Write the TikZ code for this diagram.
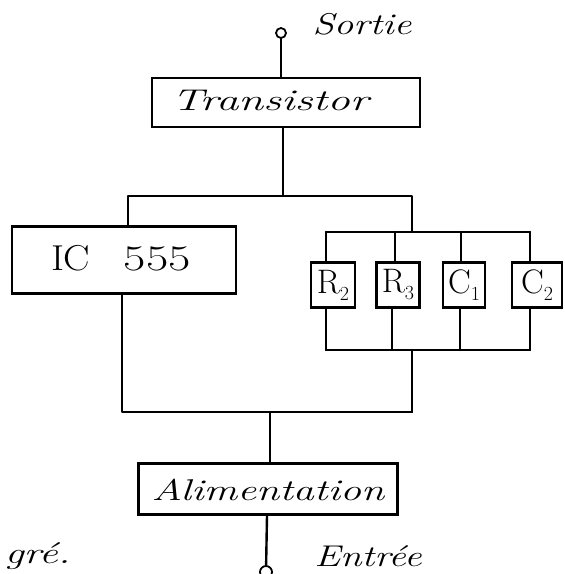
\documentclass[tikz,border=0pt]{standalone}
\usepackage{graphicx}
\newcommand{\wide}[2]{\scalebox{#1}[1]{#2}}
\newcommand{\compname}[2]{#1\raisebox{-7pt}{\fontsize{20}{20}\selectfont #2}}
\begin{document}
\begin{tikzpicture}[x=1pt,y=-1pt,
  wire/.style={line width=2.4pt, line cap=round, line join=round},
  blk/.style={draw, line width=2.4pt, inner sep=0pt, minimum height=#1},
  blk/.default=45pt,
  term/.style={draw, circle, line width=1.8pt, minimum size=10pt, inner sep=0pt},
  hand/.style={font=\fontsize{30}{32}\selectfont\itshape},
  print/.style={font=\fontsize{36}{38}\selectfont},
  comp/.style={font=\fontsize{34}{36}\selectfont}]
\useasboundingbox (0,0) rectangle (565,574);
% terminals
\node[term] (sortie) at (281,33) {};
\node[term, minimum size=12pt] (entree) at (266,572) {};
% blocks
\node[blk=49pt, minimum width=268pt] (trans) at (286,102.5) {};
\node[hand] (transt) at (270,100) {\wide{1.5}{Transistor}};
\node[blk=67pt, minimum width=224pt] (ic) at (124,260) {};
\node[print] (ict) at (121,258) {\wide{1.1}{I\kern-1pt C}\hspace{34pt}\wide{1.35}{555}};
\node[blk=45pt, minimum width=44pt, comp] (r2) at (333,285) {\compname{R}{2}};
\node[blk=45pt, minimum width=43pt, comp] (r3) at (398,285) {\compname{R}{3}};
\node[blk=45pt, minimum width=42pt, comp] (c1) at (464,285) {\compname{C}{1}};
\node[blk=45pt, minimum width=50pt, comp] (c2) at (537,285) {\compname{C}{2}};
\node[blk=51pt, minimum width=259pt] (alim) at (268,489) {};
\node[hand] (alimt) at (268,490) {\wide{1.4}{Alimentation}};
% labels
\node[hand] (lsortie) at (362,24) {\wide{1.3}{Sortie}};
\node[hand] (lentree) at (368,556) {\wide{1.3}{Entrée}};
\node[hand, anchor=east] (lgre) at (74,556) {\wide{1.4}{gré.}};
% coordinates
\coordinate (tl) at (128,196);
\coordinate (tr) at (412,196);
\coordinate (gt) at (326,232);
\coordinate (gtr) at (530,232);
\coordinate (gb) at (326,350);
\coordinate (gbr) at (530,350);
\coordinate (bl) at (122,412);
\coordinate (br) at (412,412);
% connectors
\draw[wire] (sortie) -- (sortie |- trans.north);
\draw[wire] (trans.south -| 283,0) -- (283,196);
\draw[wire] (ic.north -| tl) -- (tl) -- (tr) -- (tr |- gt);
\draw[wire] (gt) -- (gtr);
\draw[wire] (gb) -- (gbr);
\draw[wire] (gt) -- (gt |- r2.north);
\draw[wire] (395,232) -- (395,0 |- r3.north);
\draw[wire] (461,232) -- (461,0 |- c1.north);
\draw[wire] (gtr) -- (gtr |- c2.north);
\draw[wire] (gt |- r2.south) -- (gb);
\draw[wire] (392,0 |- r3.south) -- (392,350);
\draw[wire] (460,0 |- c1.south) -- (460,350);
\draw[wire] (gbr |- c2.south) -- (gbr);
\draw[wire] (412,350) -- (br);
\draw[wire] (ic.south -| bl) -- (bl) -- (br);
\draw[wire] (270,412) -- (270,0 |- alim.north);
\draw[wire] (267,0 |- alim.south) -- (entree);
\end{tikzpicture}
\end{document}
